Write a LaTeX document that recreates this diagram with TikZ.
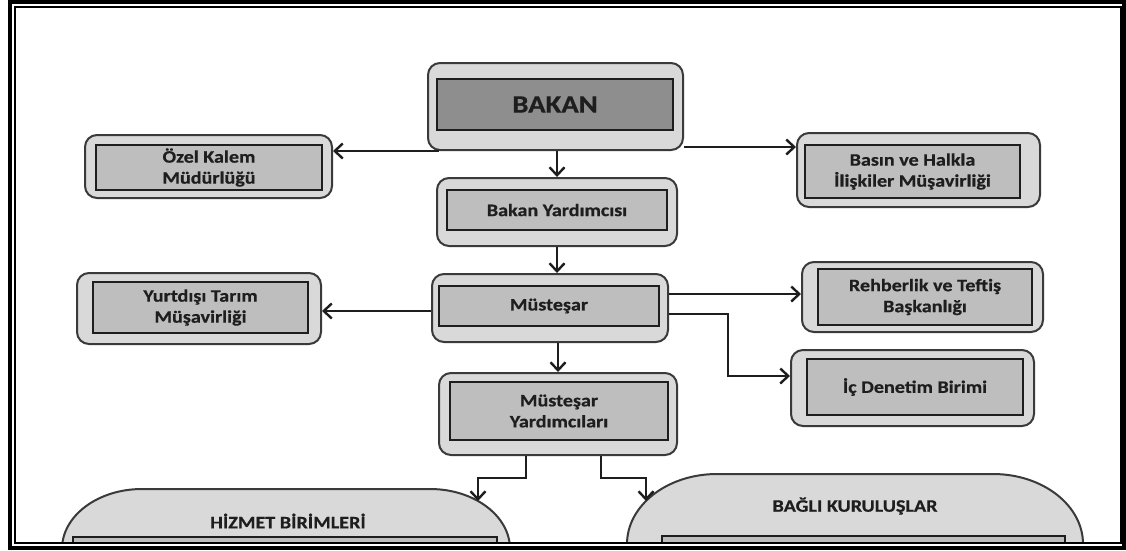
\documentclass[tikz,border=0pt]{standalone}
\usepackage{fontspec}
\setmainfont{Carlito}[FakeStretch=1.15, BoldFeatures={FakeBold=0.6}]
\usetikzlibrary{arrows.meta,fit,calc}

\definecolor{shell}{HTML}{D9D9D9}
\definecolor{core}{HTML}{BEBEBE}
\definecolor{corehead}{HTML}{8E8E8E}
\definecolor{edge}{HTML}{3A3A3A}
\definecolor{ink}{HTML}{1E1E1E}

\tikzset{
  shellbox/.style={draw=edge, line width=2pt, fill=shell, rounded corners=12pt, inner sep=0pt},
  corebox/.style={draw=ink, line width=2.2pt, fill=core, inner sep=0pt},
  unitlabel/.style={font=\bfseries\fontsize{17.5}{21}\selectfont, text=ink, align=center, inner sep=0pt},
  headlabel/.style={font=\bfseries\fontsize{25}{30}\selectfont, text=ink, inner sep=0pt},
  conn/.style={draw=ink, line width=2pt, -{Straight Barb[length=8pt,width=15pt,line width=2.4pt]}},
  bigshape/.style={draw=edge, line width=2pt, fill=shell}
}

\begin{document}
\begin{tikzpicture}[x=1pt,y=-1pt]
% page
\fill[white] (0,0) rectangle (1126,550);
\useasboundingbox (0,0) rectangle (1126,550);

% top of the chart
\node[shellbox, fit={(428,63)(683,150)}] (bakan) {};
\node[corebox, fill=corehead, fit={(437,79)(673,130)}] (bakanIn) {};
\node[headlabel] (bakanT) at (bakanIn.center) {BAKAN};

\node[shellbox, fit={(85,135)(332,198)}] (ozel) {};
\node[corebox, fit={(96,145)(322,190)}] (ozelIn) {};
\node[unitlabel] (ozelT) at (ozelIn.center) {Özel Kalem\\Müdürlüğü};

\node[shellbox, fit={(797,133)(1040,207)}] (basin) {};
\node[corebox, fit={(805,145)(1020,198)}] (basinIn) {};
\node[unitlabel] (basinT) at (basinIn.center) {Basın ve Halkla\\İlişkiler Müşavirliği};

\node[shellbox, fit={(437,178)(677,246)}] (byard) {};
\node[corebox, fit={(447,190)(667,230)}] (byardIn) {};
\node[unitlabel] (byardT) at (byardIn.center) {Bakan Yardımcısı};

% undersecretary level
\node[shellbox, fit={(432,274)(668,342)}] (must) {};
\node[corebox, fit={(439,286)(659,326)}] (mustIn) {};
\node[unitlabel] (mustT) at (mustIn.center) {Müsteşar};

\node[shellbox, fit={(77,273)(321,344)}] (yurt) {};
\node[corebox, fit={(93,282)(308,333)}] (yurtIn) {};
\node[unitlabel] (yurtT) at (yurtIn.center) {Yurtdışı Tarım\\Müşavirliği};

\node[shellbox, fit={(802,262)(1043,332)}] (reh) {};
\node[corebox, fit={(818,269)(1032,325)}] (rehIn) {};
\node[unitlabel] (rehT) at (rehIn.center) {Rehberlik ve Teftiş\\Başkanlığı};

\node[shellbox, fit={(791,350)(1034,426)}] (ic) {};
\node[corebox, fit={(807,359)(1023,415)}] (icIn) {};
\node[unitlabel] (icT) at (icIn.center) {İç Denetim Birimi};

\node[shellbox, fit={(439,373)(677,455)}] (my) {};
\node[corebox, fit={(450,382)(668,440)}] (myIn) {};
\node[unitlabel] (myT) at (myIn.center) {Müsteşar\\Yardımcıları};

% large groups, cut at the frame
\begin{scope}
  \clip (0,0) rectangle (1126,541);
  \draw[bigshape] (62,600) -- (62,549) arc[start angle=180, end angle=270, x radius=80, y radius=60]
    -- (430,489) arc[start angle=270, end angle=360, x radius=80, y radius=60] -- (510,600) -- cycle;
  \draw[corebox] (73,537) rectangle (497,600);
  \draw[bigshape] (627,600) -- (627,544) arc[start angle=180, end angle=270, x radius=90, y radius=70]
    -- (993,474) arc[start angle=270, end angle=360, x radius=90, y radius=70] -- (1083,600) -- cycle;
  \draw[corebox] (662,536) rectangle (1065,600);
\end{scope}
\node[unitlabel] (hizmetT) at (288,521) {HİZMET BİRİMLERİ};
\node[unitlabel] (bagliT) at (855,506) {BAĞLI KURULUŞLAR};
\coordinate (hzTip) at (478,501);
\coordinate (bgTip) at (646,501);

% connectors
\draw[conn] (bakan.south -| byard.north) -- (byard.north);
\coordinate (bakanL) at ([xshift=12pt]bakan.south west);
\draw[conn] (bakanL) -- (bakanL -| ozel.east);
\coordinate (bakanR) at ([yshift=4pt]bakan.south east);
\draw[conn] (bakanR) -- (bakanR -| basin.west);
\draw[conn] (byard.south) -- (byard.south |- must.north);
\coordinate (mustL) at ([yshift=-3pt]must.west);
\draw[conn] (mustL) -- (mustL -| yurt.east);
\coordinate (mustR1) at ([yshift=14pt]must.east);
\draw[conn] (mustR1) -- (mustR1 -| reh.west);
\coordinate (mustR2) at ([yshift=-6pt]must.east);
\coordinate (icL) at ([yshift=12pt]ic.west);
\draw[conn] (mustR2) -| ([xshift=-62pt]icL) -- (icL);
\draw[conn] (must.south -| my.north) -- (my.north);
\draw[conn] ([xshift=-32pt]my.south) -- ++(0,22) -| (hzTip);
\draw[conn] ([xshift=43pt]my.south) -- ++(0,22) -| (bgTip);

% double frame
\draw[line width=4pt] (10,2) rectangle (1124,548);
\draw[line width=2pt] (15,7) rectangle (1121,543);
\end{tikzpicture}
\end{document}
